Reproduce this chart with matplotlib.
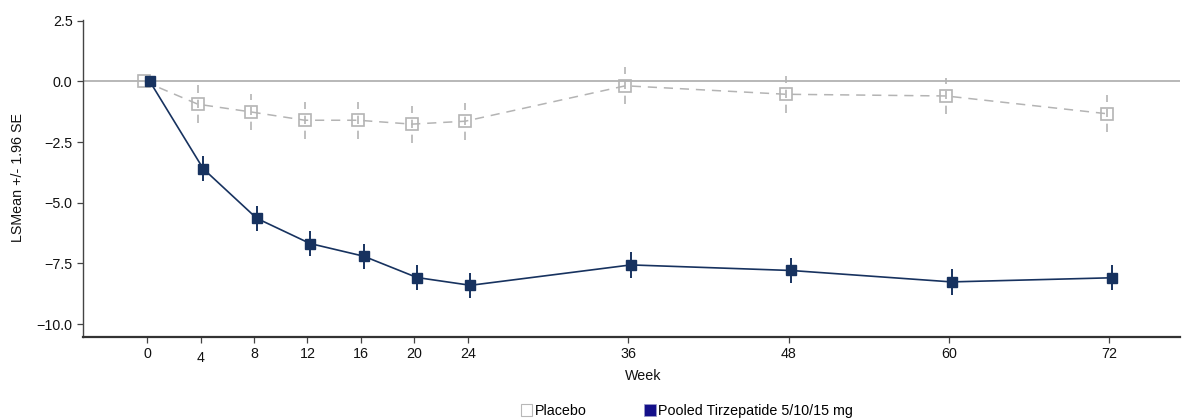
import matplotlib
matplotlib.use("Agg")
import matplotlib.pyplot as plt
from matplotlib.patches import Patch
import numpy as np

plt.rcParams['font.family'] = ['Liberation Sans', 'DejaVu Sans']

# LS mean change from baseline by visit week, with 1.96*SE half-widths
weeks = [0, 4, 8, 12, 16, 20, 24, 36, 48, 60, 72]
week_labels = ['0', '4', '8', '12', '16', '20', '24', '36', '48', '60', '72']

placebo_mean = [0.0, -0.94, -1.26, -1.60, -1.60, -1.76, -1.64, -0.18, -0.53, -0.60, -1.33]
placebo_ci = [0.0, 0.78, 0.76, 0.76, 0.76, 0.76, 0.76, 0.76, 0.76, 0.76, 0.76]

pooled_mean = [0.0, -3.60, -5.64, -6.68, -7.20, -8.08, -8.40, -7.56, -7.79, -8.26, -8.09]
pooled_ci = [0.0, 0.52, 0.52, 0.52, 0.52, 0.52, 0.52, 0.52, 0.52, 0.52, 0.52]

series_names = ['Placebo', 'Pooled Tirzepatide 5/10/15 mg']

navy = '#17325f'
legend_navy = '#14108a'
grey = '#b4b4b4'
fs = 10.3

W, H = 1182, 420
fig = plt.figure(figsize=(W / 100, H / 100), dpi=100)
ax = fig.add_axes([83 / W, 1 - 337 / H, (1180 - 83) / W, (337 - 20) / H])

wk = np.array(weeks, dtype=float)
dodge = 0.2

# reference line at zero
ax.axhline(0, color='#ababab', lw=1.2, zorder=1)

# placebo: dashed grey line, open squares, dashed error bars
pl = ax.errorbar(wk - dodge, placebo_mean, yerr=placebo_ci, fmt='s', ms=8,
                 mfc='white', mec=grey, mew=1.2, ecolor=grey, elinewidth=1.2,
                 capsize=0, ls='--', color=grey, lw=1.1, zorder=2)
pl[0].set_dashes((6, 4.5))
for coll in pl[2]:
    coll.set_linestyle((0, (5, 4)))
# keep the marker faces transparent so the bar shows through
pl[0].set_markerfacecolor('none')

# pooled tirzepatide: solid navy line, filled squares
po = ax.errorbar(wk + dodge, pooled_mean, yerr=pooled_ci, fmt='s-', ms=7,
                 mfc=navy, mec=navy, ecolor=navy, elinewidth=1.4, capsize=0,
                 color=navy, lw=1.2, zorder=3)

ax.set_xlim(-4.8, 77.3)
ax.set_ylim(-10.53, 2.53)
ax.set_xticks(weeks)
ax.set_xticklabels(week_labels)
ax.set_yticks([2.5, 0.0, -2.5, -5.0, -7.5, -10.0])
ax.set_yticklabels(['2.5', '0.0', '\u22122.5', '\u22125.0', '\u22127.5', '\u221210.0'])

for s in ['top', 'right']:
    ax.spines[s].set_visible(False)
ax.spines['left'].set_color('#444444')
ax.spines['left'].set_linewidth(1.0)
ax.spines['bottom'].set_color('#333333')
ax.spines['bottom'].set_linewidth(1.6)
ax.tick_params(axis='both', length=4, width=0.9, color='#444444',
               labelsize=fs, labelcolor='#111111')
ax.xaxis.get_major_ticks()[1].set_pad(5.8)

fig.text(18 / W, 1 - 177 / H, 'LSMean +/- 1.96 SE', rotation=90,
         ha='center', va='center', fontsize=fs, color='#111111')
fig.text(643 / W, 1 - 376 / H, 'Week', ha='center', va='center',
         fontsize=fs, color='#111111')

handles = [Patch(facecolor='white', edgecolor='#b8b8b8', lw=0.8),
           Patch(facecolor=legend_navy, edgecolor='#9a9ac8', lw=0.5)]
fig.legend(handles, series_names, loc='center', ncol=2,
           bbox_to_anchor=(687 / W, 1 - 411 / H), frameon=False,
           fontsize=fs, handlelength=0.8, handleheight=0.95,
           handletextpad=0.2, columnspacing=4.0, borderpad=0)

fig.savefig('out.png', dpi=100)
